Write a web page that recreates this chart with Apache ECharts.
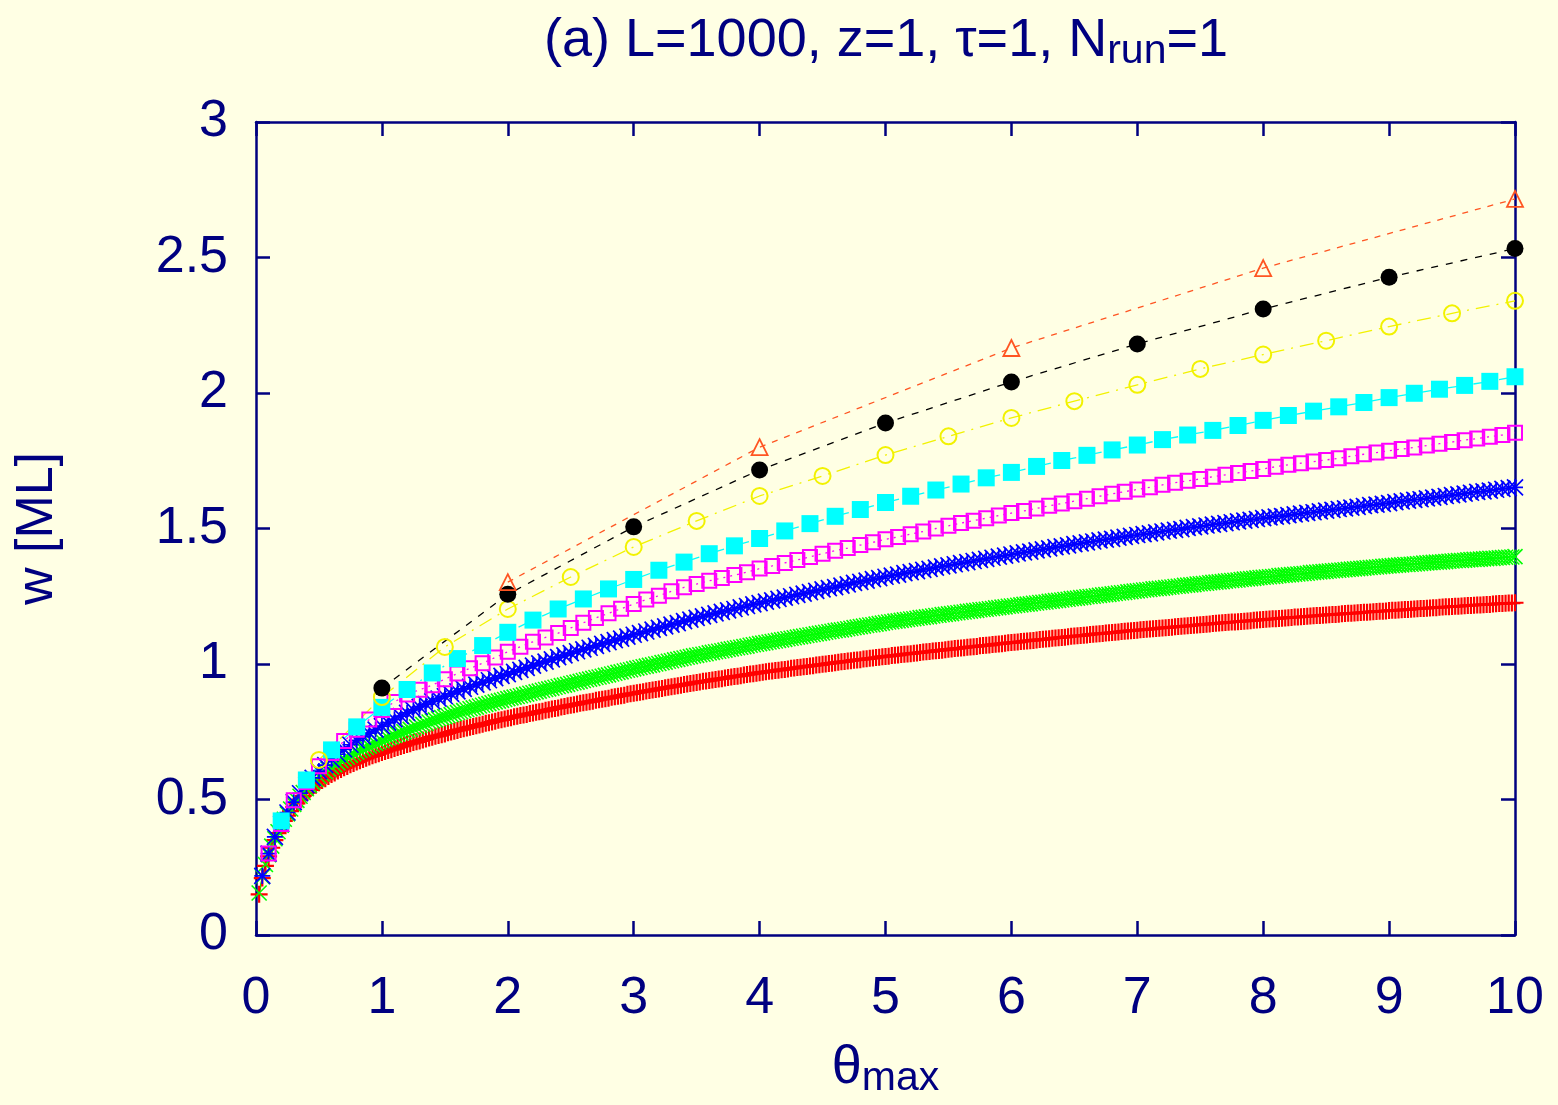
<!DOCTYPE html>
<html>
<head>
<meta charset="utf-8">
<title>w vs theta_max</title>
<script src="https://cdn.jsdelivr.net/npm/echarts@6/dist/echarts.min.js"></script>
<style>
  html, body { margin: 0; padding: 0; background: #ffffe4; }
  #chart { width: 1558px; height: 1105px; }
</style>
</head>
<body>
<div id="chart"></div>
<script>
// Interface width w [ML] versus coverage theta_max, sampled at different output intervals.
// Each series: sampling step in theta (first point at one step) and the w values.

const orangeStep = 2;
const orangeW = [1.302, 1.800, 2.166, 2.461, 2.716];

const blackStep = 1;
const blackW = [0.911, 1.257, 1.506, 1.716, 1.889, 2.041, 2.181, 2.310, 2.427, 2.533];

const yellowStep = 0.5;
const yellowW = [0.646, 0.878, 1.063, 1.203, 1.321, 1.432, 1.528, 1.620, 1.694, 1.771,
  1.840, 1.908, 1.970, 2.030, 2.089, 2.142, 2.193, 2.245, 2.294, 2.340];

const cyanStep = 0.2;
const cyanW = [0.421, 0.572, 0.683, 0.768, 0.840, 0.906, 0.967, 1.020, 1.068, 1.117,
  1.162, 1.203, 1.240, 1.277, 1.312, 1.346, 1.376, 1.407, 1.436, 1.463,
  1.491, 1.518, 1.545, 1.570, 1.596, 1.619, 1.642, 1.664, 1.687, 1.707,
  1.729, 1.751, 1.770, 1.790, 1.808, 1.828, 1.845, 1.862, 1.880, 1.899,
  1.917, 1.933, 1.949, 1.965, 1.983, 1.999, 2.014, 2.028, 2.043, 2.060];

const magentaStep = 0.1;
const magentaW = [0.301, 0.410, 0.497, 0.565, 0.623, 0.672, 0.716, 0.757, 0.795, 0.830,
  0.860, 0.887, 0.905, 0.922, 0.944, 0.965, 0.984, 1.003, 1.024, 1.045,
  1.064, 1.082, 1.098, 1.114, 1.133, 1.152, 1.170, 1.187, 1.204, 1.221,
  1.238, 1.252, 1.268, 1.283, 1.295, 1.307, 1.317, 1.328, 1.339, 1.352,
  1.362, 1.373, 1.384, 1.395, 1.407, 1.418, 1.428, 1.439, 1.449, 1.460,
  1.469, 1.479, 1.489, 1.500, 1.510, 1.520, 1.529, 1.538, 1.548, 1.557,
  1.565, 1.574, 1.584, 1.592, 1.601, 1.610, 1.619, 1.628, 1.636, 1.644,
  1.652, 1.661, 1.669, 1.676, 1.683, 1.691, 1.698, 1.705, 1.712, 1.720,
  1.728, 1.735, 1.741, 1.747, 1.753, 1.759, 1.767, 1.774, 1.780, 1.787,
  1.793, 1.799, 1.806, 1.813, 1.819, 1.826, 1.832, 1.839, 1.845, 1.853];

const blueStep = 0.05;
const blueW = [0.218, 0.300, 0.362, 0.410, 0.452, 0.490, 0.523, 0.553, 0.580, 0.605,
  0.627, 0.648, 0.667, 0.685, 0.702, 0.718, 0.732, 0.745, 0.758, 0.771,
  0.784, 0.796, 0.808, 0.820, 0.831, 0.842, 0.852, 0.862, 0.872, 0.881,
  0.890, 0.899, 0.908, 0.916, 0.924, 0.932, 0.940, 0.948, 0.956, 0.963,
  0.971, 0.978, 0.986, 0.994, 1.002, 1.009, 1.017, 1.025, 1.032, 1.040,
  1.047, 1.054, 1.060, 1.067, 1.074, 1.081, 1.088, 1.094, 1.101, 1.108,
  1.114, 1.120, 1.127, 1.133, 1.139, 1.145, 1.151, 1.158, 1.164, 1.170,
  1.176, 1.181, 1.187, 1.192, 1.198, 1.203, 1.209, 1.214, 1.220, 1.225,
  1.230, 1.235, 1.240, 1.245, 1.250, 1.255, 1.260, 1.265, 1.270, 1.275,
  1.280, 1.284, 1.289, 1.294, 1.299, 1.303, 1.308, 1.313, 1.317, 1.322,
  1.326, 1.330, 1.335, 1.339, 1.343, 1.347, 1.351, 1.356, 1.360, 1.364,
  1.368, 1.372, 1.376, 1.380, 1.384, 1.388, 1.392, 1.396, 1.400, 1.404,
  1.408, 1.412, 1.415, 1.419, 1.423, 1.427, 1.431, 1.434, 1.438, 1.442,
  1.445, 1.449, 1.452, 1.456, 1.459, 1.462, 1.466, 1.469, 1.473, 1.476,
  1.479, 1.482, 1.486, 1.489, 1.492, 1.495, 1.498, 1.502, 1.505, 1.508,
  1.511, 1.514, 1.517, 1.520, 1.523, 1.526, 1.529, 1.532, 1.535, 1.538,
  1.541, 1.544, 1.546, 1.549, 1.552, 1.555, 1.558, 1.560, 1.563, 1.566,
  1.569, 1.572, 1.574, 1.577, 1.580, 1.583, 1.586, 1.588, 1.591, 1.594,
  1.597, 1.600, 1.603, 1.606, 1.608, 1.611, 1.614, 1.617, 1.620, 1.623,
  1.626, 1.629, 1.632, 1.635, 1.637, 1.640, 1.643, 1.646, 1.649, 1.652];

const greenStep = 0.025;
const greenW = [0.155, 0.215, 0.260, 0.296, 0.328, 0.355, 0.381, 0.405, 0.427, 0.447,
  0.465, 0.482, 0.497, 0.512, 0.526, 0.540, 0.552, 0.563, 0.574, 0.585,
  0.594, 0.603, 0.612, 0.620, 0.628, 0.635, 0.643, 0.650, 0.656, 0.663,
  0.669, 0.675, 0.681, 0.686, 0.692, 0.697, 0.702, 0.707, 0.712, 0.717,
  0.722, 0.727, 0.731, 0.736, 0.741, 0.746, 0.750, 0.755,
  0.759, 0.764, 0.768, 0.773, 0.777, 0.781, 0.786, 0.790,
  0.794, 0.798, 0.802, 0.806, 0.809, 0.813, 0.817, 0.821,
  0.824, 0.828, 0.831, 0.835, 0.838, 0.841, 0.845, 0.848,
  0.851, 0.854, 0.857, 0.860, 0.863, 0.866, 0.869, 0.872,
  0.875, 0.878, 0.880, 0.883, 0.886, 0.889, 0.892, 0.894, 0.897, 0.900,
  0.903, 0.906, 0.908, 0.911, 0.914, 0.917, 0.920, 0.922, 0.925, 0.928,
  0.931, 0.933, 0.936, 0.939, 0.942, 0.944, 0.947, 0.950, 0.952, 0.955,
  0.958, 0.960, 0.963, 0.966, 0.969, 0.971, 0.974, 0.977, 0.979, 0.982,
  0.985, 0.987, 0.990, 0.992, 0.995, 0.997, 1.000, 1.002, 1.005, 1.007,
  1.010, 1.012, 1.015, 1.017, 1.020, 1.022, 1.025, 1.027, 1.030, 1.032,
  1.034, 1.036, 1.038, 1.041, 1.043, 1.045, 1.047, 1.049, 1.051, 1.054,
  1.056, 1.058, 1.060, 1.062, 1.064, 1.066, 1.069, 1.071, 1.073, 1.075,
  1.077, 1.079, 1.081, 1.083, 1.085, 1.087, 1.089, 1.091, 1.093, 1.095,
  1.097, 1.099, 1.101, 1.103, 1.105, 1.107, 1.109, 1.111, 1.113, 1.115,
  1.117, 1.119, 1.121, 1.123, 1.125, 1.126, 1.128, 1.130, 1.132, 1.134,
  1.136, 1.138, 1.140, 1.142, 1.144, 1.145, 1.147, 1.149, 1.151, 1.153,
  1.155, 1.156, 1.158, 1.159, 1.161, 1.163, 1.164, 1.166, 1.167, 1.169,
  1.171, 1.172, 1.174, 1.175, 1.177, 1.179, 1.180, 1.182, 1.183, 1.185,
  1.186, 1.188, 1.189, 1.191, 1.192, 1.194, 1.195, 1.197, 1.198, 1.200,
  1.201, 1.202, 1.204, 1.205, 1.207, 1.208, 1.210, 1.211, 1.213, 1.214,
  1.215, 1.217, 1.218, 1.220, 1.221, 1.222, 1.224, 1.225, 1.227, 1.228,
  1.229, 1.231, 1.232, 1.234, 1.235, 1.236, 1.238, 1.239, 1.241, 1.242,
  1.243, 1.245, 1.246, 1.248, 1.249, 1.250, 1.252, 1.253, 1.255, 1.256,
  1.257, 1.259, 1.260, 1.262, 1.263, 1.264, 1.266, 1.267, 1.269, 1.270,
  1.271, 1.273, 1.274, 1.275, 1.277, 1.278, 1.279, 1.280, 1.282, 1.283,
  1.284, 1.286, 1.287, 1.288, 1.290, 1.291, 1.292, 1.293, 1.295, 1.296,
  1.297, 1.298, 1.300, 1.301, 1.302, 1.303, 1.304, 1.306, 1.307, 1.308,
  1.309, 1.310, 1.312, 1.313, 1.314, 1.315, 1.316, 1.318, 1.319, 1.320,
  1.321, 1.322, 1.323, 1.324, 1.326, 1.327, 1.328, 1.329, 1.330, 1.331,
  1.332, 1.333, 1.334, 1.335, 1.337, 1.338, 1.339, 1.340, 1.341, 1.342,
  1.343, 1.344, 1.345, 1.346, 1.347, 1.348, 1.349, 1.350, 1.351, 1.352,
  1.353, 1.354, 1.355, 1.356, 1.357, 1.358, 1.359, 1.360, 1.361, 1.362,
  1.363, 1.364, 1.365, 1.366, 1.367, 1.367, 1.368, 1.369, 1.370, 1.371,
  1.372, 1.373, 1.374, 1.375, 1.376, 1.376, 1.377, 1.378, 1.379, 1.380,
  1.381, 1.382, 1.382, 1.383, 1.384, 1.385, 1.386, 1.386, 1.387, 1.388,
  1.389, 1.390, 1.390, 1.391, 1.392, 1.393, 1.394, 1.394, 1.395, 1.396];

const redStep = 0.025;
const redW = [0.150, 0.210, 0.255, 0.290, 0.322, 0.350, 0.376, 0.400, 0.421, 0.440,
  0.457, 0.472, 0.486, 0.500, 0.513, 0.525, 0.535, 0.544, 0.553, 0.562,
  0.570, 0.577, 0.585, 0.592, 0.598, 0.605, 0.611, 0.617, 0.622, 0.628,
  0.633, 0.638, 0.643, 0.648, 0.652, 0.657, 0.661, 0.665, 0.669, 0.673,
  0.677, 0.681, 0.684, 0.688, 0.692, 0.696, 0.699, 0.703,
  0.706, 0.710, 0.713, 0.716, 0.720, 0.723, 0.727, 0.730,
  0.733, 0.736, 0.739, 0.742, 0.746, 0.749, 0.752, 0.755,
  0.758, 0.761, 0.764, 0.767, 0.769, 0.772, 0.775, 0.778,
  0.781, 0.783, 0.786, 0.789, 0.792, 0.794, 0.797, 0.800,
  0.802, 0.805, 0.807, 0.810, 0.812, 0.814, 0.817, 0.819, 0.822, 0.824,
  0.826, 0.829, 0.831, 0.834, 0.836, 0.838, 0.841, 0.843, 0.846, 0.848,
  0.850, 0.852, 0.855, 0.857, 0.859, 0.861, 0.863, 0.866, 0.868, 0.870,
  0.872, 0.874, 0.877, 0.879, 0.881, 0.883, 0.885, 0.888, 0.890, 0.892,
  0.894, 0.896, 0.898, 0.900, 0.902, 0.904, 0.906, 0.908, 0.910, 0.912,
  0.914, 0.916, 0.918, 0.920, 0.922, 0.924, 0.926, 0.928, 0.930, 0.932,
  0.934, 0.936, 0.937, 0.939, 0.941, 0.943, 0.945, 0.946, 0.948, 0.950,
  0.952, 0.954, 0.955, 0.957, 0.959, 0.961, 0.963, 0.964, 0.966, 0.968,
  0.970, 0.971, 0.973, 0.974, 0.976, 0.977, 0.979, 0.980, 0.982, 0.984,
  0.985, 0.987, 0.988, 0.990, 0.991, 0.993, 0.994, 0.996, 0.997, 0.999,
  1.000, 1.002, 1.003, 1.005, 1.006, 1.008, 1.009, 1.011, 1.012, 1.014,
  1.015, 1.016, 1.018, 1.019, 1.021, 1.022, 1.024, 1.025, 1.027, 1.028,
  1.029, 1.031, 1.032, 1.033, 1.035, 1.036, 1.037, 1.038, 1.040, 1.041,
  1.042, 1.044, 1.045, 1.046, 1.048, 1.049, 1.050, 1.051, 1.053, 1.054,
  1.055, 1.057, 1.058, 1.059, 1.060, 1.062, 1.063, 1.064, 1.065, 1.067,
  1.068, 1.069, 1.070, 1.072, 1.073, 1.074, 1.075, 1.077, 1.078, 1.079,
  1.080, 1.081, 1.083, 1.084, 1.085, 1.086, 1.087, 1.089, 1.090, 1.091,
  1.092, 1.093, 1.095, 1.096, 1.097, 1.098, 1.099, 1.101, 1.102, 1.103,
  1.104, 1.105, 1.106, 1.107, 1.109, 1.110, 1.111, 1.112, 1.113, 1.114,
  1.115, 1.116, 1.117, 1.118, 1.120, 1.121, 1.122, 1.123, 1.124, 1.125,
  1.126, 1.127, 1.128, 1.129, 1.130, 1.131, 1.132, 1.133, 1.134, 1.135,
  1.136, 1.137, 1.138, 1.139, 1.140, 1.141, 1.142, 1.143, 1.144, 1.145,
  1.146, 1.147, 1.148, 1.149, 1.150, 1.151, 1.152, 1.153, 1.154, 1.155,
  1.155, 1.156, 1.157, 1.158, 1.159, 1.160, 1.161, 1.162, 1.163, 1.164,
  1.165, 1.166, 1.167, 1.167, 1.168, 1.169, 1.170, 1.171, 1.172, 1.173,
  1.173, 1.174, 1.175, 1.176, 1.177, 1.178, 1.179, 1.179, 1.180, 1.181,
  1.182, 1.183, 1.183, 1.184, 1.185, 1.186, 1.187, 1.187, 1.188, 1.189,
  1.190, 1.191, 1.191, 1.192, 1.193, 1.194, 1.195, 1.195, 1.196, 1.197,
  1.198, 1.198, 1.199, 1.200, 1.201, 1.201, 1.202, 1.203, 1.204, 1.205,
  1.205, 1.206, 1.207, 1.208, 1.208, 1.209, 1.210, 1.211, 1.211, 1.212,
  1.213, 1.213, 1.214, 1.215, 1.216, 1.216, 1.217, 1.218, 1.218, 1.219,
  1.220, 1.220, 1.221, 1.222, 1.223, 1.223, 1.224, 1.225, 1.225, 1.226];

const xTickLabels = ['0', '1', '2', '3', '4', '5', '6', '7', '8', '9', '10'];
const yTickLabels = ['0', '0.5', '1', '1.5', '2', '2.5', '3'];

// ---- styling ----
const NAVY = '#000080';
const BG = '#ffffe4';
const FONT = '"Liberation Sans", Arial, Helvetica, sans-serif';
const FS = 52;

const SYM_PLUS = 'path://M0,5L10,5M5,0L5,10';
const SYM_CROSS = 'path://M0,0L10,10M10,0L0,10';
const SYM_STAR = 'path://M0,5L10,5M5,0L5,10M0,0L10,10M10,0L0,10';

function toPoints(step, values) {
  return values.map((w, i) => [Math.round(step * (i + 1) * 1000) / 1000, w]);
}

function series(name, step, values, color, symbol, size, opts) {
  const o = opts || {};
  return {
    name: name,
    type: 'line',
    data: toPoints(step, values),
    symbol: symbol,
    symbolSize: size,
    showSymbol: true,
    clip: false,
    silent: true,
    lineStyle: { color: color, width: o.lineWidth || 1.3, type: o.dash || 'solid' },
    itemStyle: o.filled
      ? { color: color, borderWidth: 0 }
      : { color: 'none', borderColor: color, borderWidth: o.border || 1.8 },
    emphasis: { disabled: true }
  };
}

const chart = echarts.init(document.getElementById('chart'), null, { renderer: 'canvas' });

const axisLine = { show: true, onZero: false, lineStyle: { color: NAVY, width: 2.5 } };
const axisTick = { show: true, inside: true, length: 14, lineStyle: { color: NAVY, width: 2.5 } };

const subRich = {
  a: { fontFamily: FONT, fontSize: 54, fontWeight: 'normal', color: NAVY, lineHeight: 62, verticalAlign: 'middle' },
  b: { fontFamily: FONT, fontSize: 41, fontWeight: 'normal', color: NAVY, lineHeight: 27, verticalAlign: 'bottom' }
};

chart.setOption({
  backgroundColor: BG,
  animation: false,
  title: {
    text: '{a|(a) L=1000, z=1, τ=1, N}{b|run}{a|=1}',
    left: 539,
    top: 5,
    textStyle: { fontWeight: 'normal', rich: subRich }
  },
  grid: { left: 256, right: 43, top: 122, bottom: 170, containLabel: false },
  xAxis: [
    {
      type: 'value', min: 0, max: 10, interval: 1, position: 'bottom',
      axisLine: axisLine, axisTick: axisTick, splitLine: { show: false },
      axisLabel: {
        color: NAVY, fontFamily: FONT, fontSize: FS, margin: 38,
        formatter: (v) => xTickLabels[Math.round(v)]
      },
      name: '{a|θ}{b|max}',
      nameLocation: 'middle',
      nameGap: 102,
      nameTextStyle: { rich: subRich }
    },
    {
      type: 'value', min: 0, max: 10, interval: 1, position: 'top',
      axisLine: axisLine, axisTick: axisTick, splitLine: { show: false },
      axisLabel: { show: false }
    }
  ],
  yAxis: [
    {
      type: 'value', min: 0, max: 3, interval: 0.5, position: 'left',
      axisLine: axisLine, axisTick: axisTick, splitLine: { show: false },
      axisLabel: {
        color: NAVY, fontFamily: FONT, fontSize: FS, margin: 28,
        formatter: (v) => yTickLabels[Math.round(v * 2)]
      },
      name: 'w [ML]',
      nameLocation: 'middle',
      nameGap: 192,
      nameTextStyle: { fontFamily: FONT, fontSize: FS, color: NAVY }
    },
    {
      type: 'value', min: 0, max: 3, interval: 0.5, position: 'right',
      axisLine: axisLine, axisTick: axisTick, splitLine: { show: false },
      axisLabel: { show: false }
    }
  ],
  series: [
    series('red', redStep, redW, '#ff0000', SYM_PLUS, 17, { border: 2.2 }),
    series('green', greenStep, greenW, '#00ff00', SYM_CROSS, 15, { border: 1.6 }),
    series('blue', blueStep, blueW, '#0000ff', SYM_STAR, 16, { border: 1.7 }),
    series('magenta', magentaStep, magentaW, '#ff00ff', 'rect', 14, { border: 2, dash: [2, 5] }),
    series('cyan', cyanStep, cyanW, '#00ffff', 'rect', 17, { filled: true, dash: [12, 6, 2, 6] }),
    series('yellow', yellowStep, yellowW, '#f2f200', 'circle', 16, { border: 2, dash: [14, 7, 2, 7] }),
    series('black', blackStep, blackW, '#000000', 'circle', 17, { filled: true, dash: [7, 8] }),
    series('orange', orangeStep, orangeW, '#ff5522', 'triangle', 16, { border: 1.8, dash: [6, 7] })
  ]
});
</script>
</body>
</html>
